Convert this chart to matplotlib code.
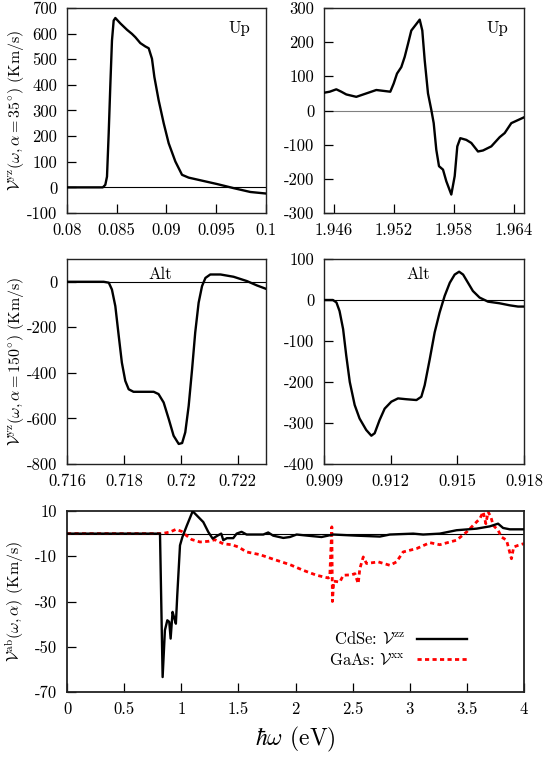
import numpy as np
import matplotlib
matplotlib.use("Agg")
import matplotlib.pyplot as plt

plt.rcParams['font.family'] = 'serif'
plt.rcParams['font.serif'] = ['cmr10']
plt.rcParams['mathtext.fontset'] = 'cm'
plt.rcParams['axes.unicode_minus'] = False
plt.rcParams['font.size'] = 12

# --- data ---
# top left, Up, alpha = 35 deg
up1_x = [0.080, 0.0836, 0.08385, 0.08402, 0.08419, 0.08436, 0.08452, 0.08469, 0.08486,
         0.08536, 0.08603, 0.08653, 0.08687, 0.08737, 0.08787, 0.08821, 0.08854, 0.08878,
         0.08921, 0.08972, 0.09022, 0.09089, 0.09156, 0.09223, 0.09508, 0.09675, 0.09843, 0.100]
up1_y = [0, 0, 10, 42, 211, 405, 573, 651, 661,
         640, 615, 599, 586, 563, 550, 543, 502, 431,
         340, 250, 172, 101, 49, 38, 13, -3, -18, -24]

# top right, Up
up2_x = [1.945, 1.94557, 1.94623, 1.94673, 1.94723, 1.94823, 1.94923, 1.95023, 1.95107,
         1.95163, 1.95197, 1.9523, 1.95273, 1.95307, 1.9534, 1.95373, 1.95423, 1.95457,
         1.95483, 1.95507, 1.9554, 1.95573, 1.95597, 1.95623, 1.9565, 1.9569, 1.95723,
         1.95773, 1.95807, 1.95833, 1.95863, 1.95923, 1.95973, 1.9604, 1.9609, 1.96173,
         1.96257, 1.96307, 1.96373, 1.9644, 1.965]
up2_y = [52, 55, 62, 55, 47, 40, 50, 60, 57,
         55, 79, 108, 127, 157, 195, 234, 253, 266,
         234, 147, 50, 2, -37, -115, -163, -173, -207,
         -246, -192, -105, -81, -86, -95, -120, -117, -105,
         -78, -66, -37, -28, -20]

# middle left, Alt, alpha = 150 deg
alt1_x = [0.716, 0.71729, 0.71747, 0.71758, 0.7177, 0.71782, 0.71793, 0.71805, 0.71817,
          0.71834, 0.7187, 0.71905, 0.71922, 0.7194, 0.71958, 0.71975, 0.71993, 0.72005,
          0.72016, 0.72028, 0.7204, 0.72051, 0.72063, 0.72075, 0.72087, 0.72104, 0.7214,
          0.72186, 0.72233, 0.72268, 0.723]
alt1_y = [0, 0, -4, -34, -107, -238, -355, -435, -472,
          -483, -483, -483, -493, -530, -603, -676, -712, -708,
          -661, -545, -384, -223, -92, -19, 17, 32, 32,
          22, 3, -16, -31]

# middle right, Alt
alt2_x = [0.909, 0.9094, 0.90956, 0.9097, 0.90986, 0.910, 0.91016, 0.91038, 0.9106,
          0.9109, 0.91113, 0.91128, 0.9115, 0.91173, 0.91203, 0.91233, 0.9127, 0.91316,
          0.91338, 0.91353, 0.91376, 0.91398, 0.9142, 0.91443, 0.91466, 0.91488, 0.91508,
          0.91526, 0.91548, 0.9157, 0.916, 0.91638, 0.9169, 0.91736, 0.91773, 0.918]
alt2_y = [0, 0, -6, -27, -71, -135, -200, -256, -289,
          -317, -331, -325, -293, -265, -248, -240, -242, -244,
          -236, -208, -144, -79, -31, 10, 42, 62, 69,
          62, 42, 22, 6, -4, -8, -13, -16, -16]

# bottom, CdSe V^zz
cdse_x = [0.0, 0.814, 0.837, 0.857, 0.878, 0.895, 0.907, 0.924, 0.936, 0.953, 0.965,
          0.989, 1.01, 1.05, 1.10, 1.193, 1.237, 1.275, 1.324, 1.35, 1.368, 1.40,
          1.455, 1.485, 1.528, 1.572, 1.718, 1.761, 1.805, 1.893, 1.951, 2.01, 2.126,
          2.228, 2.33, 2.535, 2.738, 2.826, 3.03, 3.117, 3.263, 3.41, 3.585, 3.70,
          3.773, 3.817, 3.876, 4.0]
cdse_y = [0, 0, -63.4, -42.7, -38.3, -39, -46.4, -34.6, -36.8, -39.8, -27.3,
          -5.2, -1.5, 3.7, 9.9, 5.1, 0.7, -2.2, -0.7, 0, -2.9, -2,
          -2, 0, 0.8, -0.4, -0.4, 0.5, -0.9, -1.9, -1.5, -0.4, -1.0,
          -1.5, -0.4, -0.9, -1.3, -0.4, 0, -0.4, 0, 1.5, 2.2, 3.2,
          4.4, 2.5, 1.9, 1.9]

# bottom, GaAs V^xx
gaas_x = [0.0, 0.83, 0.901, 0.954, 1.003, 1.047, 1.091, 1.164, 1.237, 1.295, 1.368,
          1.441, 1.50, 1.572, 1.689, 1.805, 1.951, 2.067, 2.185, 2.286, 2.30, 2.318,
          2.323, 2.335, 2.388, 2.418, 2.49, 2.52, 2.549, 2.563, 2.593, 2.622, 2.724,
          2.826, 2.884, 2.942, 3.06, 3.176, 3.263, 3.41, 3.497, 3.57, 3.613, 3.643,
          3.666, 3.686, 3.71, 3.73, 3.773, 3.803, 3.847, 3.89, 3.91, 3.948, 4.0]
gaas_y = [0, 0, 0.7, 1.9, 1.0, -0.9, -2.6, -3.7, -3.4, -2.7, -4.5,
          -4.9, -5.9, -8.1, -9.3, -11.3, -13.7, -16.2, -18.4, -19.6, -19.1, 3,
          -30, -21, -21.4, -18.4, -18.2, -17.7, -22.1, -15.5, -10.3, -13.2, -12.5,
          -14, -12.5, -8.1, -6.6, -4, -4.9, -2.9, 0.7, 4.4, 6.6, 9.6,
          4.4, 9.6, 7.4, 3.7, 1.5, -1.5, -2.9, -11.1, -5.9, -5.2, -4.4]

fig = plt.figure(figsize=(5.45, 7.6), dpi=100)

W, H = 545.0, 760.0
def box(l, t, r, b):
    return [l / W, 1 - b / H, (r - l) / W, (b - t) / H]

ax1 = fig.add_axes(box(67, 8, 266, 213))
ax2 = fig.add_axes(box(324, 8, 524, 213))
ax3 = fig.add_axes(box(67, 259, 266, 464))
ax4 = fig.add_axes(box(324, 259, 524, 464))
ax5 = fig.add_axes(box(67, 511, 524, 692))


def style(ax, xt, xl, yt, yl, xlim, ylim, zcol='black'):
    ax.axhline(0, color=zcol, lw=0.8, zorder=1)
    ax.set_xlim(*xlim)
    ax.set_ylim(*ylim)
    ax.set_xticks(xt)
    ax.set_xticklabels(xl)
    ax.set_yticks(yt)
    ax.set_yticklabels(yl)
    ax.tick_params(direction='in', length=6.5, width=0.9, top=False, right=False,
                   labelsize=12, pad=7)
    for s in ax.spines.values():
        s.set_linewidth(1.0)
        s.set_color('#222222')


ax1.plot(up1_x, up1_y, color='black', lw=1.7, zorder=3)
style(ax1, [0.08, 0.085, 0.09, 0.095, 0.1], ['0.08', '0.085', '0.09', '0.095', '0.1'],
      range(-100, 701, 100), [str(v) for v in range(-100, 701, 100)],
      (0.08, 0.1), (-100, 700))
ax1.text(0.92, 0.9, 'Up', transform=ax1.transAxes, ha='right', va='center', fontsize=12)
ax1.set_ylabel(r'$\mathcal{V}^{\rm yz}(\omega,\alpha=35^{\circ})$ (Km/s)', fontsize=11.5)
ax1.yaxis.set_label_coords(-0.205, 0.5)

ax2.plot(up2_x, up2_y, color='black', lw=1.7, zorder=3)
style(ax2, [1.946, 1.952, 1.958, 1.964], ['1.946', '1.952', '1.958', '1.964'],
      range(-300, 301, 100), [str(v) for v in range(-300, 301, 100)],
      (1.945, 1.965), (-300, 300), zcol='#808080')
ax2.text(0.92, 0.9, 'Up', transform=ax2.transAxes, ha='right', va='center', fontsize=12)

ax3.plot(alt1_x, alt1_y, color='black', lw=1.7, zorder=3)
style(ax3, [0.716, 0.718, 0.72, 0.722], ['0.716', '0.718', '0.72', '0.722'],
      range(-800, 1, 200), [str(v) for v in range(-800, 1, 200)],
      (0.716, 0.723), (-800, 100))
ax3.text(0.47, 0.925, 'Alt', transform=ax3.transAxes, ha='center', va='center', fontsize=12)
ax3.set_ylabel(r'$\mathcal{V}^{\rm yz}(\omega,\alpha=150^{\circ})$ (Km/s)', fontsize=11.5)
ax3.yaxis.set_label_coords(-0.205, 0.5)

ax4.plot(alt2_x, alt2_y, color='black', lw=1.7, zorder=3)
style(ax4, [0.909, 0.912, 0.915, 0.918], ['0.909', '0.912', '0.915', '0.918'],
      range(-400, 101, 100), [str(v) for v in range(-400, 101, 100)],
      (0.909, 0.918), (-400, 100))
ax4.text(0.47, 0.925, 'Alt', transform=ax4.transAxes, ha='center', va='center', fontsize=12)

ax5.plot(cdse_x, cdse_y, color='black', lw=1.7, zorder=3,
         label=r'CdSe: $\mathcal{V}^{\rm zz}$')
ax5.plot(gaas_x, gaas_y, color='red', lw=2.0, ls=(0, (1.5, 1.2)), zorder=2,
         label=r'GaAs: $\mathcal{V}^{\rm xx}$')
style(ax5, [0, 0.5, 1, 1.5, 2, 2.5, 3, 3.5, 4],
      ['0', '0.5', '1', '1.5', '2', '2.5', '3', '3.5', '4'],
      [10, -10, -30, -50, -70], ['10', '-10', '-30', '-50', '-70'],
      (0, 4), (-70, 10))
for s in ax5.spines.values():
    s.set_linewidth(1.3)
ax5.set_ylabel(r'$\mathcal{V}^{\rm ab}(\omega,\alpha)$ (Km/s)', fontsize=11.5)
ax5.yaxis.set_label_coords(-0.09, 0.5)
ax5.set_xlabel(r'$\hbar\omega$ (eV)', fontsize=17, labelpad=6)
ax5.legend(loc='center right', bbox_to_anchor=(0.875, 0.235), frameon=False,
           markerfirst=False, borderpad=0, borderaxespad=0, handlelength=3.0,
           handletextpad=0.7, labelspacing=0.3, fontsize=12)

fig.savefig('out.png', dpi=100)
